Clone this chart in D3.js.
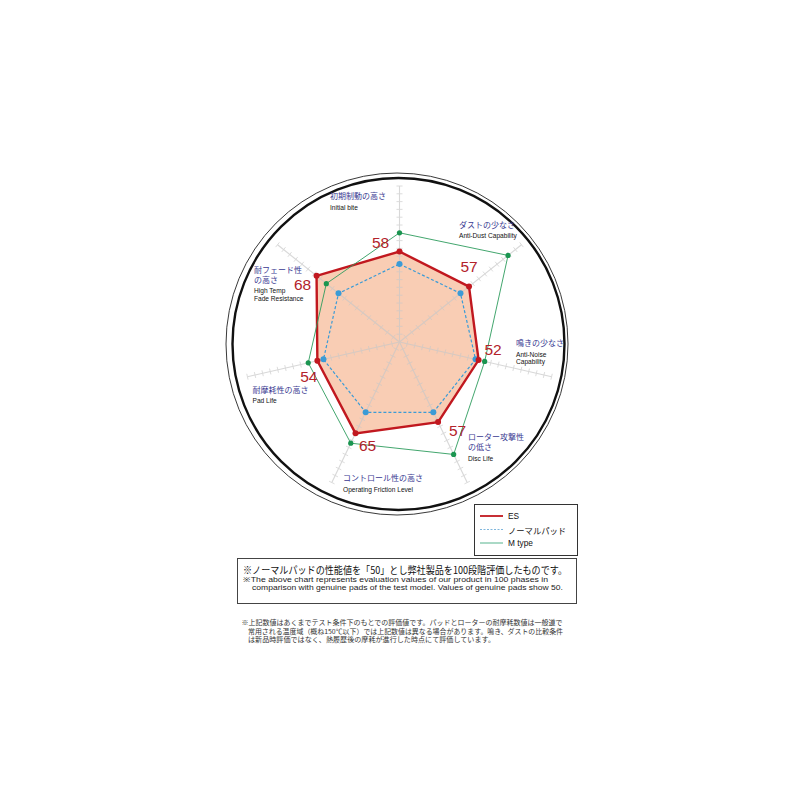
<!DOCTYPE html>
<html><head><meta charset="utf-8">
<script src="https://cdn.jsdelivr.net/npm/d3@7"></script>
<style>
html,body{margin:0;padding:0;background:#fff;}
svg{display:block;}
</style></head>
<body>
<svg id="chart" width="800" height="800"></svg>
<script>
// ---------- DATA ----------
const categoriesJP = [
  ["初期制動の高さ"],
  ["ダストの少なさ"],
  ["鳴きの少なさ"],
  ["ローター攻撃性", "の低さ"],
  ["コントロール性の高さ"],
  ["耐摩耗性の高さ"],
  ["耐フェード性", "の高さ"]
];
const categoriesEN = [
  ["Initial bite"],
  ["Anti-Dust Capability"],
  ["Anti-Noise", "Capability"],
  ["Disc Life"],
  ["Operating Friction Level"],
  ["Pad Life"],
  ["High Temp", "Fade Resistance"]
];
const esValues     = [58, 57, 52, 57, 65, 54, 68];
const normalValues = [50, 50, 50, 50, 50, 50, 50];
const mTypeValues  = [70, 89, 56, 80, 72, 60, 60];
const seriesNames  = ["ES", "ノーマルパッド", "M type"];
const tickValues   = d3.range(5, 101, 5);

const noteMain = "※ノーマルパッドの性能値を「50」とし弊社製品を100段階評価したものです。";
const noteEN = [
  "※The above chart represents evaluation values of our product in 100 phases in",
  "comparison with genuine pads of the test model. Values of genuine pads show 50."
];
const footnote = [
  "※上記数値はあくまでテスト条件下のもとでの評価値です。パッドとローターの耐摩耗数値は一般道で",
  "常用される温度域（概ね150℃以下）では上記数値は異なる場合があります。鳴き、ダストの比較条件",
  "は新品時評価ではなく、熱履歴後の摩耗が進行した時点にて評価しています。"
];

// ---------- LAYOUT / STYLE ----------
const cx = 399.5, cy = 342;
const r = d3.scaleLinear().domain([0, 100]).range([0, 156]);
const n = categoriesJP.length;
const ang = d3.scaleLinear().domain([0, n]).range([0, 2 * Math.PI]);
const pt = (i, v) => [cx + r(v) * Math.sin(ang(i)), cy - r(v) * Math.cos(ang(i))];

// label block anchor (left x, first-line centre y)
const labelPos = [
  [330, 195.7], [459, 224.3], [516, 342.7], [468, 436.7],
  [343, 477.7], [252.5, 389], [254, 269.3]
];
// value label offsets relative to ES point
const valueOffset = [
  [-19, -9], [0, -20], [14.5, -11], [19.5, 8], [12, 12], [-8.5, 16], [-14, 9]
];

const jpFont = "'Noto Sans CJK JP', 'Noto Sans', sans-serif";
const enFont = "'Liberation Sans', Arial, sans-serif";
const red = "#c1181f", fill = "#f9cdb4", blue = "#3b9bd6", green = "#2e9c5e";

const svg = d3.select("#chart");

// outer double circle
svg.append("circle").attr("cx", 397).attr("cy", 344).attr("r", 171)
  .attr("fill", "none").attr("stroke", "#222").attr("stroke-width", 0.9);
svg.append("circle").attr("cx", 398.5).attr("cy", 344).attr("r", 166)
  .attr("fill", "none").attr("stroke", "#111").attr("stroke-width", 2.4);

// ES fill
const line = d3.line().curve(d3.curveLinearClosed);
svg.append("path")
  .attr("d", line(esValues.map((v, i) => pt(i, v))))
  .attr("fill", fill).attr("stroke", "none");

// axes + ticks
const axes = svg.append("g").attr("stroke", "#c8c8c8").attr("opacity", 0.7);
for (let i = 0; i < n; i++) {
  const [x1, y1] = pt(i, 100);
  axes.append("line").attr("x1", cx).attr("y1", cy).attr("x2", x1).attr("y2", y1)
    .attr("stroke-width", 1.1);
  const a = ang(i);
  const px = Math.cos(a), py = Math.sin(a); // perpendicular
  tickValues.forEach(t => {
    const [tx, ty] = pt(i, t);
    const h = 3;
    axes.append("line")
      .attr("x1", tx - px * h).attr("y1", ty - py * h)
      .attr("x2", tx + px * h).attr("y2", ty + py * h)
      .attr("stroke-width", 0.9);
  });
}

// normal pad (dashed blue)
svg.append("path")
  .attr("d", line(normalValues.map((v, i) => pt(i, v))))
  .attr("fill", "none").attr("stroke", blue).attr("stroke-width", 1.2)
  .attr("stroke-dasharray", "3,2");
svg.append("g").selectAll("circle").data(normalValues).join("circle")
  .attr("cx", (v, i) => pt(i, v)[0]).attr("cy", (v, i) => pt(i, v)[1])
  .attr("r", 3).attr("fill", blue);

// ES stroke
svg.append("path")
  .attr("d", line(esValues.map((v, i) => pt(i, v))))
  .attr("fill", "none").attr("stroke", red).attr("stroke-width", 2.4)
  .attr("stroke-linejoin", "miter");
svg.append("g").selectAll("circle").data(esValues).join("circle")
  .attr("cx", (v, i) => pt(i, v)[0]).attr("cy", (v, i) => pt(i, v)[1])
  .attr("r", 3).attr("fill", red);

// M type (green)
svg.append("path")
  .attr("d", line(mTypeValues.map((v, i) => pt(i, v))))
  .attr("fill", "none").attr("stroke", green).attr("stroke-width", 0.9);
svg.append("g").selectAll("circle").data(mTypeValues).join("circle")
  .attr("cx", (v, i) => pt(i, v)[0]).attr("cy", (v, i) => pt(i, v)[1])
  .attr("r", 2.6).attr("fill", "#1a9550");

// value labels
svg.append("g").selectAll("text").data(esValues).join("text")
  .attr("x", (v, i) => pt(i, v)[0] + valueOffset[i][0])
  .attr("y", (v, i) => pt(i, v)[1] + valueOffset[i][1])
  .attr("text-anchor", "middle").attr("dominant-baseline", "central")
  .attr("font-family", enFont).attr("font-size", 15.5)
  .attr("fill", "#b3222b")
  .text(d => d);

// category labels
categoriesJP.forEach((jp, i) => {
  const [lx, ly] = labelPos[i];
  let y = ly;
  jp.forEach(s => {
    svg.append("text").attr("x", lx).attr("y", y)
      .attr("dominant-baseline", "central")
      .attr("font-family", jpFont).attr("font-size", 8.0)
      .attr("fill", "#3a3a92").text(s);
    y += 10;
  });
  y += 1.5;
  categoriesEN[i].forEach(s => {
    svg.append("text").attr("x", lx).attr("y", y)
      .attr("dominant-baseline", "central")
      .attr("font-family", enFont).attr("font-size", 6.6)
      .attr("fill", "#111").text(s);
    y += 7.7;
  });
});

// legend
const lg = svg.append("g");
lg.append("rect").attr("x", 474.5).attr("y", 504.5).attr("width", 103).attr("height", 51)
  .attr("fill", "#fff").attr("stroke", "#333").attr("stroke-width", 1);
const legendStyle = [
  {c: red, w: 1.8, d: null},
  {c: "#7fb6dc", w: 1, d: "2,1.5"},
  {c: "#86c9ae", w: 1.4, d: null}
];
seriesNames.forEach((s, i) => {
  const y = 516 + i * 13.5;
  lg.append("line").attr("x1", 480).attr("x2", 503).attr("y1", y).attr("y2", y)
    .attr("stroke", legendStyle[i].c).attr("stroke-width", legendStyle[i].w)
    .attr("stroke-dasharray", legendStyle[i].d);
  lg.append("text").attr("x", 508).attr("y", y).attr("dominant-baseline", "central")
    .attr("font-family", i === 1 ? jpFont : enFont).attr("font-size", 8.3)
    .attr("fill", "#111").text(s);
});

// note box
svg.append("rect").attr("x", 237.5).attr("y", 558.5).attr("width", 339).attr("height", 45)
  .attr("fill", "#fff").attr("stroke", "#444").attr("stroke-width", 1);
svg.append("text").attr("x", 243).attr("y", 569.5).attr("dominant-baseline", "central")
  .attr("font-family", jpFont).attr("font-size", 10).attr("fill", "#111")
  .attr("textLength", 324).attr("lengthAdjust", "spacingAndGlyphs").text(noteMain);
const enLayout = [[243, 579.8, 305], [252, 587.4, 311]];
noteEN.forEach((s, i) => {
  svg.append("text").attr("x", enLayout[i][0]).attr("y", enLayout[i][1])
    .attr("dominant-baseline", "central")
    .attr("font-family", enFont).attr("font-size", 6.7).attr("fill", "#222")
    .attr("textLength", enLayout[i][2]).attr("lengthAdjust", "spacingAndGlyphs").text(s);
});

// footnote
const fnLayout = [[241.5, 621.7, 321], [248, 630.7, 315], [248, 639.3, 247]];
footnote.forEach((s, i) => {
  svg.append("text").attr("x", fnLayout[i][0]).attr("y", fnLayout[i][1])
    .attr("dominant-baseline", "central")
    .attr("font-family", jpFont).attr("font-size", 6.8).attr("fill", "#333")
    .attr("textLength", fnLayout[i][2]).attr("lengthAdjust", "spacingAndGlyphs").text(s);
});
</script>
</body></html>
